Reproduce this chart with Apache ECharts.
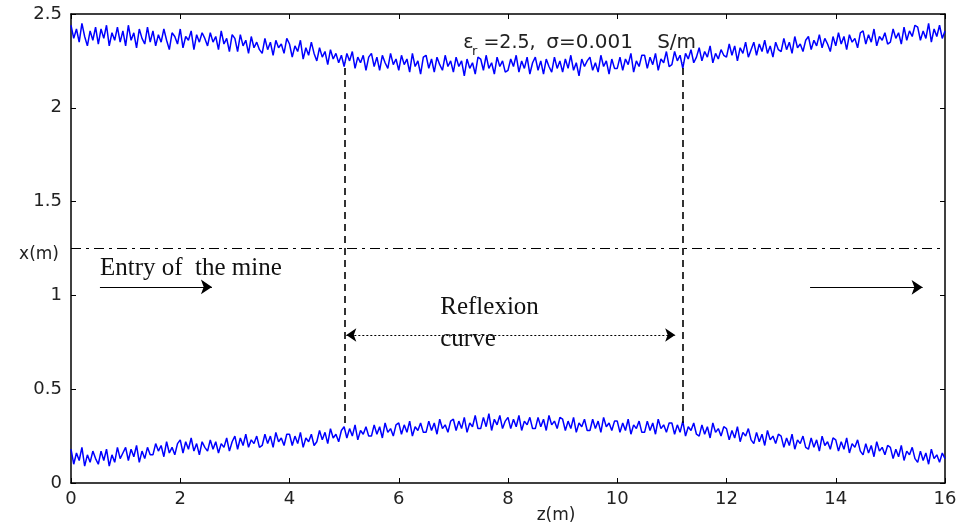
<!DOCTYPE html>
<html>
<head>
<meta charset="utf-8">
<script src="https://cdn.jsdelivr.net/npm/echarts@6/dist/echarts.min.js"></script>
<style>html,body{margin:0;padding:0;background:#fff;}#c{width:959px;height:525px;}</style>
</head>
<body>
<div id="c"></div>
<script>
// z positions sampled every 0.05 m from 0 to 16
const zStep = 0.05;
// upper boundary x(m)
const upperCurve = [
2.44,2.37,2.42,2.35,2.45,2.38,2.33,2.41,2.36,2.43,
2.34,2.42,2.37,2.44,2.33,2.40,2.36,2.43,2.35,2.41,
2.33,2.44,2.36,2.40,2.32,2.42,2.37,2.34,2.43,2.35,
2.41,2.33,2.39,2.35,2.42,2.36,2.31,2.40,2.38,2.34,
2.42,2.32,2.38,2.36,2.41,2.31,2.39,2.35,2.40,2.37,
2.33,2.40,2.35,2.38,2.31,2.41,2.34,2.37,2.30,2.39,
2.37,2.30,2.39,2.33,2.36,2.29,2.38,2.32,2.35,2.31,
2.29,2.37,2.31,2.35,2.28,2.36,2.32,2.34,2.29,2.37,
2.34,2.27,2.33,2.30,2.36,2.26,2.32,2.28,2.35,2.29,
2.25,2.32,2.27,2.30,2.23,2.31,2.26,2.29,2.24,2.28,
2.22,2.29,2.25,2.30,2.21,2.27,2.24,2.28,2.20,2.27,
2.29,2.22,2.27,2.20,2.28,2.24,2.21,2.29,2.23,2.26,
2.20,2.28,2.23,2.26,2.19,2.29,2.22,2.25,2.18,2.27,
2.28,2.21,2.26,2.19,2.27,2.23,2.20,2.28,2.22,2.25,
2.19,2.27,2.22,2.25,2.17,2.26,2.21,2.24,2.18,2.27,
2.26,2.20,2.28,2.21,2.24,2.18,2.27,2.22,2.25,2.19,
2.20,2.26,2.22,2.28,2.19,2.25,2.21,2.27,2.18,2.24,
2.27,2.20,2.25,2.18,2.26,2.22,2.19,2.27,2.21,2.25,
2.19,2.26,2.21,2.28,2.20,2.24,2.17,2.26,2.22,2.25,
2.27,2.20,2.24,2.19,2.28,2.22,2.25,2.18,2.26,2.21,
2.21,2.27,2.20,2.26,2.23,2.29,2.19,2.25,2.22,2.28,
2.28,2.21,2.27,2.23,2.29,2.20,2.26,2.24,2.30,2.22,
2.23,2.30,2.25,2.28,2.21,2.29,2.26,2.31,2.24,2.27,
2.32,2.25,2.30,2.27,2.33,2.24,2.29,2.26,2.31,2.28,
2.27,2.34,2.28,2.33,2.25,2.32,2.29,2.35,2.27,2.31,
2.35,2.28,2.34,2.30,2.36,2.29,2.33,2.27,2.35,2.31,
2.30,2.37,2.31,2.35,2.29,2.38,2.32,2.34,2.30,2.36,
2.38,2.31,2.36,2.33,2.39,2.32,2.37,2.34,2.30,2.38,
2.33,2.40,2.34,2.38,2.31,2.39,2.35,2.37,2.32,2.40,
2.41,2.34,2.39,2.35,2.42,2.33,2.38,2.36,2.40,2.34,
2.35,2.42,2.37,2.40,2.34,2.43,2.36,2.41,2.38,2.44,
2.43,2.36,2.41,2.37,2.45,2.35,2.42,2.38,2.44,2.37,
2.41];
// lower boundary x(m)
const lowerCurve = [
0.18,0.10,0.16,0.12,0.19,0.09,0.15,0.11,0.17,0.13,
0.10,0.17,0.12,0.18,0.09,0.15,0.11,0.19,0.13,0.16,
0.19,0.12,0.18,0.14,0.20,0.11,0.17,0.13,0.19,0.15,
0.15,0.21,0.17,0.20,0.14,0.22,0.16,0.19,0.15,0.21,
0.23,0.16,0.22,0.18,0.24,0.17,0.21,0.15,0.22,0.19,
0.17,0.23,0.18,0.22,0.16,0.21,0.19,0.24,0.17,0.22,
0.25,0.18,0.24,0.20,0.26,0.19,0.23,0.21,0.25,0.19,
0.20,0.26,0.21,0.25,0.19,0.27,0.22,0.24,0.20,0.26,
0.26,0.20,0.25,0.21,0.27,0.19,0.24,0.22,0.26,0.20,
0.22,0.28,0.23,0.27,0.21,0.29,0.24,0.26,0.22,0.28,
0.30,0.24,0.29,0.25,0.31,0.23,0.28,0.26,0.30,0.25,
0.25,0.31,0.26,0.30,0.24,0.32,0.27,0.29,0.25,0.31,
0.32,0.26,0.31,0.27,0.33,0.25,0.30,0.28,0.32,0.27,
0.27,0.33,0.28,0.32,0.26,0.34,0.29,0.31,0.27,0.33,
0.34,0.28,0.33,0.29,0.35,0.27,0.32,0.30,0.36,0.29,
0.29,0.35,0.30,0.37,0.28,0.34,0.31,0.36,0.29,0.33,
0.35,0.29,0.34,0.30,0.36,0.28,0.33,0.31,0.35,0.29,
0.29,0.35,0.30,0.34,0.28,0.36,0.31,0.33,0.29,0.35,
0.34,0.28,0.33,0.29,0.35,0.27,0.32,0.30,0.34,0.28,
0.28,0.34,0.29,0.33,0.27,0.35,0.30,0.32,0.28,0.33,
0.33,0.27,0.32,0.28,0.34,0.26,0.31,0.29,0.33,0.27,
0.27,0.33,0.28,0.32,0.26,0.34,0.29,0.31,0.27,0.32,
0.32,0.26,0.31,0.27,0.33,0.25,0.30,0.28,0.32,0.26,
0.25,0.31,0.26,0.30,0.24,0.32,0.27,0.29,0.25,0.30,
0.29,0.23,0.28,0.24,0.30,0.22,0.27,0.25,0.29,0.23,
0.21,0.27,0.22,0.26,0.20,0.28,0.23,0.25,0.21,0.26,
0.25,0.19,0.24,0.20,0.26,0.18,0.23,0.21,0.25,0.19,
0.18,0.24,0.19,0.23,0.17,0.25,0.20,0.22,0.18,0.24,
0.23,0.17,0.22,0.18,0.24,0.16,0.21,0.19,0.23,0.17,
0.15,0.21,0.16,0.20,0.14,0.22,0.17,0.19,0.15,0.20,
0.19,0.13,0.18,0.14,0.20,0.12,0.17,0.15,0.19,0.13,
0.11,0.17,0.12,0.16,0.10,0.18,0.13,0.15,0.11,0.16,
0.13];
// annotation geometry (data units)
const mineEntryLevel = 1.25;
const reflexionStart = 5.02, reflexionEnd = 11.19;
const reflexionLow = [0.32, 0.32], reflexionHigh = [2.24, 2.24];

const toPairs = arr => arr.map((v, i) => [+(i * zStep).toFixed(2), v]);

const chart = echarts.init(document.getElementById('c'), null, {renderer: 'canvas'});
const axisFont = {fontFamily: 'DejaVu Sans', fontSize: 18, color: '#222'};
const serif = {fontFamily: 'Liberation Serif', fontSize: 25, color: '#111'};
const sans = {fontFamily: 'DejaVu Sans', fontSize: 19, color: '#222'};
const blk = '#000';
const lbl = (txt, style) => Object.assign({show: true, position: 'right', distance: 0, formatter: txt}, style);

chart.setOption({
  animation: false,
  backgroundColor: '#fff',
  grid: {left: 71, right: 14, top: 14, bottom: 42, outerBoundsMode: 'none', containLabel: false},
  xAxis: [{
    type: 'value', min: 0, max: 16, interval: 2,
    name: 'z(m)', nameLocation: 'middle', nameGap: 24, nameMoveOverlap: false,
    nameTextStyle: Object.assign({}, axisFont, {fontSize: 17, padding: [0, 0, 0, 96]}),
    axisLine: {show: true, onZero: false, lineStyle: {color: blk, width: 1.5}},
    axisTick: {show: true, inside: true, length: 5, lineStyle: {color: blk}},
    axisLabel: Object.assign({margin: 7}, axisFont),
    splitLine: {show: false}
  }, {
    type: 'value', min: 0, max: 16, interval: 2, position: 'top',
    axisLine: {show: true, onZero: false, lineStyle: {color: blk, width: 1.5}},
    axisTick: {show: true, inside: true, length: 5, lineStyle: {color: blk}},
    axisLabel: {show: false}, splitLine: {show: false}
  }],
  yAxis: [{
    type: 'value', min: 0, max: 2.5, interval: 0.5,
    name: 'x(m)', nameLocation: 'middle', nameRotate: 0, nameGap: 12, nameMoveOverlap: false,
    nameTextStyle: Object.assign({}, axisFont, {fontSize: 17, verticalAlign: 'top', lineHeight: 12}),
    axisLine: {show: true, onZero: false, lineStyle: {color: blk, width: 1.5}},
    axisTick: {show: true, inside: true, length: 5, lineStyle: {color: blk}},
    axisLabel: Object.assign({margin: 9}, axisFont),
    splitLine: {show: false}
  }, {
    type: 'value', min: 0, max: 2.5, interval: 0.5, position: 'right',
    axisLine: {show: true, onZero: false, lineStyle: {color: blk, width: 1.5}},
    axisTick: {show: true, inside: true, length: 5, lineStyle: {color: blk}},
    axisLabel: {show: false}, splitLine: {show: false}
  }],
  series: [{
    type: 'line', data: toPairs(upperCurve), showSymbol: false,
    lineStyle: {color: '#0000ff', width: 1.5}, z: 3
  }, {
    type: 'line', data: toPairs(lowerCurve), showSymbol: false,
    lineStyle: {color: '#0000ff', width: 1.5}, z: 3
  }, {
    type: 'line', data: [], silent: true,
    markLine: {
      silent: true, animation: false,
      label: {show: false},
      emphasis: {disabled: true},
      data: [
        [{coord: [0, mineEntryLevel], symbol: 'none', lineStyle: {type: [10, 5, 3, 5], color: blk, width: 1}},
         {coord: [16, mineEntryLevel], symbol: 'none'}],
        [{coord: [reflexionStart, reflexionLow[0]], symbol: 'none', lineStyle: {type: [7, 5], color: blk, width: 1.6}},
         {coord: [reflexionStart, reflexionHigh[0]], symbol: 'none'}],
        [{coord: [reflexionEnd, reflexionLow[1]], symbol: 'none', lineStyle: {type: [7, 5], color: blk, width: 1.6}},
         {coord: [reflexionEnd, reflexionHigh[1]], symbol: 'none'}],
        [{coord: [0.53, 1.045], symbol: 'none', lineStyle: {type: 'solid', color: blk, width: 1}},
         {coord: [2.58, 1.045], symbol: 'arrow', symbolSize: 11}],
        [{coord: [13.53, 1.043], symbol: 'none', lineStyle: {type: 'solid', color: blk, width: 1}},
         {coord: [15.59, 1.043], symbol: 'arrow', symbolSize: 11}],
        [{coord: [5.04, 0.789], symbol: 'arrow', symbolSize: 10, lineStyle: {type: [2, 2], color: blk, width: 1}},
         {coord: [11.06, 0.789], symbol: 'arrow', symbolSize: 10}]
      ]
    },
    markPoint: {
      silent: true, animation: false,
      symbol: 'circle', symbolSize: 0,
      data: [
        {coord: [0.53, 1.146], label: lbl('Entry of  the mine', serif)},
        {coord: [6.76, 0.935], label: lbl('Reflexion', serif)},
        {coord: [6.76, 0.765], label: lbl('curve', serif)},
        {coord: [7.18, 2.345], label: lbl('ε', sans)},
        {coord: [7.55, 2.345], label: lbl('=2.5,', sans)},
        {coord: [8.70, 2.345], label: lbl('σ=0.001', Object.assign({}, sans, {fontSize: 20}))},
        {coord: [10.73, 2.345], label: lbl('S/m', Object.assign({}, sans, {fontSize: 20}))},
        {coord: [7.34, 2.297], label: lbl('r', Object.assign({}, sans, {fontSize: 13}))}
      ]
    }
  }]
});
</script>
</body>
</html>
